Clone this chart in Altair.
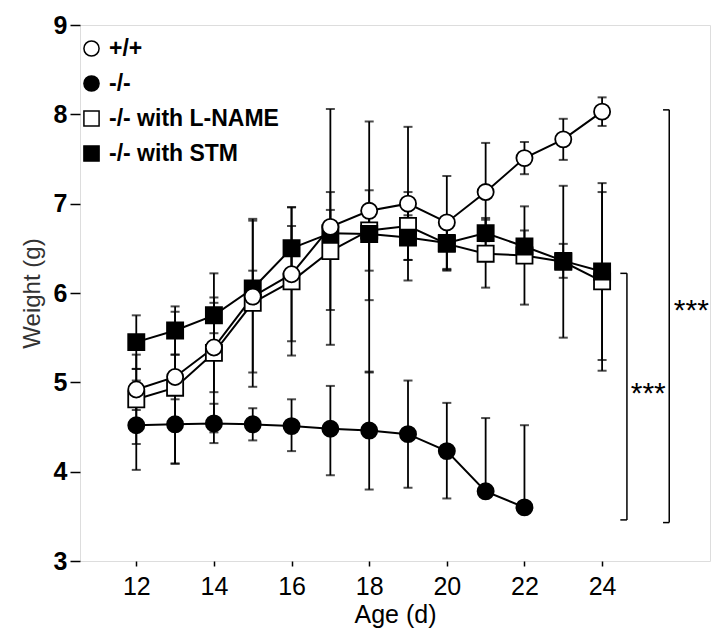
import altair as alt
import pandas as pd

# ---- data ----
series_names = ["+/+", "-/-", "-/-  with L-NAME", "-/-  with STM"]

days_full = [12, 13, 14, 15, 16, 17, 18, 19, 20, 21, 22, 23, 24]
days_ko = [12, 13, 14, 15, 16, 17, 18, 19, 20, 21, 22]

wt_mean = [4.92, 5.06, 5.39, 5.96, 6.21, 6.74, 6.92, 7.00, 6.79, 7.13, 7.51, 7.72, 8.03]
wt_err_hi = [0.23, 0.25, 0.50, 0.85, 0.75, 1.32, 1.00, 0.86, 0.52, 0.55, 0.18, 0.23, 0.16]
wt_err_lo = [0.23, 0.25, 0.50, 0.85, 0.75, 1.32, 1.00, 0.86, 0.52, 0.55, 0.18, 0.23, 0.16]

ko_mean = [4.52, 4.53, 4.54, 4.53, 4.51, 4.48, 4.46, 4.42, 4.23, 3.78, 3.60]
ko_err_hi = [0.50, 0.44, 0.22, 0.18, 0.30, 0.48, 0.66, 0.60, 0.54, 0.82, 0.92]
ko_err_lo = [0.50, 0.44, 0.22, 0.18, 0.28, 0.52, 0.66, 0.60, 0.53, 0.00, 0.00]

ln_mean = [4.81, 4.94, 5.33, 5.89, 6.13, 6.47, 6.70, 6.75, 6.55, 6.44, 6.42, 6.35, 6.13]
ln_err_hi = [0.50, 0.85, 0.89, 0.94, 0.83, 0.66, 0.45, 0.38, 0.30, 0.38, 0.55, 0.85, 1.00]
ln_err_lo = [0.50, 0.85, 0.89, 0.94, 0.83, 0.66, 0.45, 0.38, 0.30, 0.38, 0.55, 0.85, 1.00]

stm_mean = [5.45, 5.58, 5.75, 6.05, 6.50, 6.67, 6.66, 6.62, 6.56, 6.67, 6.52, 6.36, 6.24]
stm_err_hi = [0.30, 0.27, 0.20, 0.20, 0.25, 0.26, 0.30, 0.25, 0.30, 0.17, 0.18, 0.19, 0.99]
stm_err_lo = [0.30, 0.27, 0.20, 0.20, 0.25, 0.26, 1.55, 0.25, 0.30, 0.17, 0.18, 0.19, 0.99]

# significance brackets (x position, lower y, upper y) and their labels
bracket_x = [24.64, 25.73]
bracket_tick_x = [24.47, 25.57]
bracket_y_lo = [3.46, 3.43]
bracket_y_hi = [6.22, 8.05]
star_x = [25.19, 26.3]
star_y = [4.95, 5.88]
star_text = ["***", "***"]

# ---- build table ----
rows = []
draw_order = [2, 3, 1, 0]
groups = [
    (days_full, wt_mean, wt_err_lo, wt_err_hi),
    (days_ko, ko_mean, ko_err_lo, ko_err_hi),
    (days_full, ln_mean, ln_err_lo, ln_err_hi),
    (days_full, stm_mean, stm_err_lo, stm_err_hi),
]
for k in draw_order:
    d, m, lo, hi = groups[k]
    for i in range(len(d)):
        rows.append({"series": series_names[k], "order": draw_order.index(k),
                     "day": d[i], "mean": m[i],
                     "lo": round(m[i] - lo[i], 3), "hi": round(m[i] + hi[i], 3),
                     "has_lo": lo[i] > 0})
df = pd.DataFrame(rows)

br = pd.DataFrame({"x": bracket_x, "xt": bracket_tick_x,
                   "y1": bracket_y_lo, "y2": bracket_y_hi})
st = pd.DataFrame({"x": star_x, "y": star_y, "t": star_text})

FONT = "Liberation Sans"
xs = alt.Scale(domain=[10.55, 26.78], nice=False, zero=False)
ys = alt.Scale(domain=[3, 9], nice=False, zero=False)

X = alt.X("day:Q", scale=xs,
          axis=alt.Axis(title="Age (d)", values=[12, 14, 16, 18, 20, 22, 24],
                        format="d",
                        grid=False, domain=False, tickColor="black", tickSize=5,
                        tickWidth=1.5, labelFontSize=25, labelFont=FONT,
                        labelColor="black", labelPadding=8, titleFont=FONT,
                        titleFontSize=25, titleFontWeight="normal",
                        titleColor="black", titlePadding=3))
Y = alt.Y("mean:Q", scale=ys,
          axis=alt.Axis(title="Weight (g)", values=[3, 4, 5, 6, 7, 8, 9],
                        format="d",
                        grid=False, domain=False, tickColor="black", tickSize=10,
                        tickWidth=1.5, labelFontSize=25, labelFont=FONT,
                        labelFontWeight="bold", labelColor="black",
                        labelPadding=3, titleFont=FONT, titleFontSize=24,
                        titleFontWeight="normal", titleColor="#333",
                        titlePadding=9))

base = alt.Chart(df)

lines = base.mark_line(color="black", strokeWidth=2).encode(
    x=X, y=Y, detail="series:N")

rules = base.mark_rule(color="black", strokeWidth=1.8).encode(
    x="day:Q", y="lo:Q", y2="hi:Q")

cap_hi = base.mark_tick(color="black", thickness=2, size=9,
                        orient="horizontal").encode(x="day:Q", y="hi:Q")
cap_lo = base.transform_filter("datum.has_lo").mark_tick(
    color="black", thickness=2, size=9, orient="horizontal").encode(
    x="day:Q", y="lo:Q")

legend = alt.Legend(title=None, orient="none", legendX=0, legendY=12,
                    labelFont=FONT, labelFontSize=23, labelFontWeight="bold",
                    labelColor="black", labelLimit=0, symbolSize=230,
                    symbolStrokeWidth=1.5, rowPadding=11, labelOffset=6,
                    padding=0)

pts = base.mark_point(filled=True, size=260, strokeWidth=1.8,
                      opacity=1).encode(
    x="day:Q", y="mean:Q",
    shape=alt.Shape("series:N",
                    scale=alt.Scale(domain=series_names,
                                    range=["circle", "circle", "square", "square"]),
                    legend=legend),
    fill=alt.Fill("series:N",
                  scale=alt.Scale(domain=series_names,
                                  range=["white", "black", "white", "black"]),
                  legend=legend),
    stroke=alt.Stroke("series:N",
                      scale=alt.Scale(domain=series_names,
                                      range=["black", "black", "black", "black"]),
                      legend=legend),
    order=alt.Order("order:Q"),
)

bracket_v = alt.Chart(br).mark_rule(color="black", strokeWidth=1.5).encode(
    x=alt.X("x:Q", scale=xs), y=alt.Y("y1:Q", scale=ys), y2="y2:Q")
bracket_t1 = alt.Chart(br).mark_rule(color="black", strokeWidth=1.5).encode(
    x=alt.X("xt:Q", scale=xs), x2="x:Q", y=alt.Y("y1:Q", scale=ys))
bracket_t2 = alt.Chart(br).mark_rule(color="black", strokeWidth=1.5).encode(
    x=alt.X("xt:Q", scale=xs), x2="x:Q", y=alt.Y("y2:Q", scale=ys))
stars = alt.Chart(st).mark_text(font=FONT, fontSize=30,
                                color="black", baseline="middle", dy=7).encode(
    x=alt.X("x:Q", scale=xs), y=alt.Y("y:Q", scale=ys), text="t:N")

chart = alt.layer(lines, rules, cap_hi, cap_lo, pts,
                  bracket_v, bracket_t1, bracket_t2, stars).properties(
    width=630, height=536,
    autosize=alt.AutoSizeParams(type="none"),
    padding={"left": 72, "top": 17, "right": 2, "bottom": 70},
).configure_view(stroke="black", strokeWidth=2).configure(background="white")

chart.save("out.html", embed_options={"renderer": "svg", "actions": False})
